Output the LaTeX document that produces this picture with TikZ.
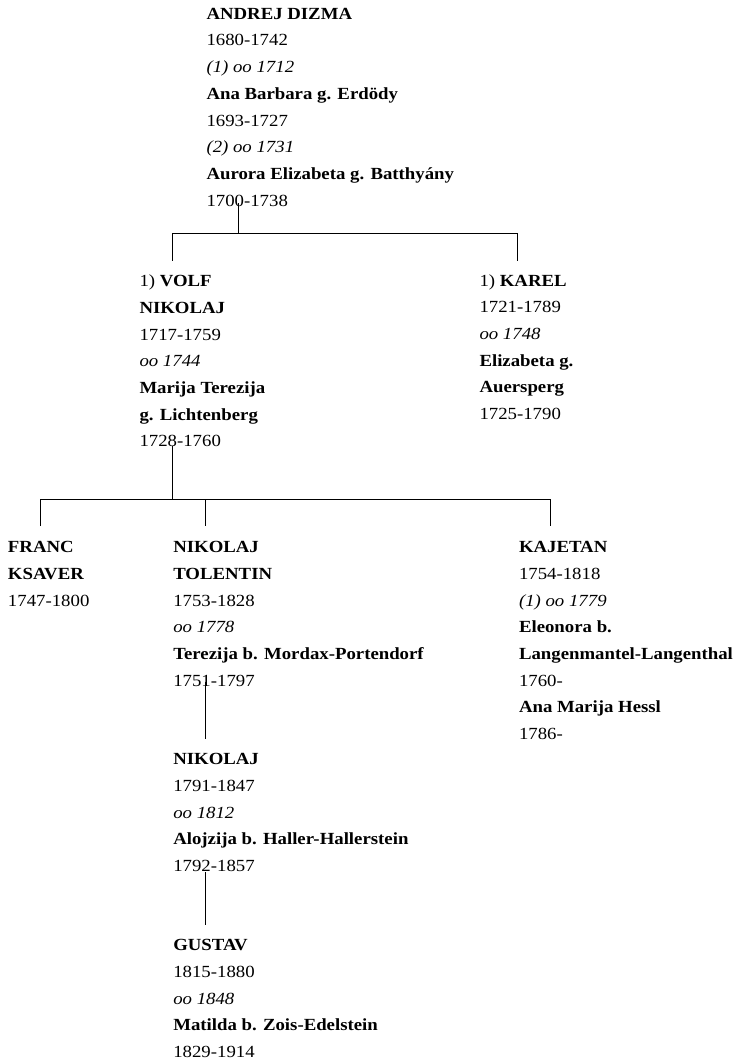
\documentclass[tikz,border=0pt]{standalone}
\usepackage{fontspec}
\setmainfont{Liberation Serif}[FakeStretch=1.105]
\begin{document}
\begin{tikzpicture}[x=1pt,y=-1pt,
  person/.style={anchor=base west,inner sep=0pt,outer sep=0pt,
    font=\fontsize{17}{26.7}\selectfont},
  link/.style={line width=0.9pt,draw=black}]
\useasboundingbox (0,0) rectangle (734,1060);
\def\arraystretch{1}
\newcommand{\pb}[1]{\begin{tabular}[t]{@{}l@{}}#1\end{tabular}}

\node[person] (andrej) at (206.5,19.3) {\pb{\textbf{ANDREJ DIZMA}\\1680-1742\\\textit{(1) oo 1712}\\\textbf{Ana Barbara g. Erdödy}\\1693-1727\\\textit{(2) oo 1731}\\\textbf{Aurora Elizabeta g. Batthyány}\\1700-1738}};

\node[person] (volf) at (139.5,286.7) {\pb{1) \textbf{VOLF}\\\textbf{NIKOLAJ}\\1717-1759\\\textit{oo 1744}\\\textbf{Marija Terezija}\\\textbf{g. Lichtenberg}\\1728-1760}};

\node[person] (karel) at (479.5,286.0) {\pb{1) \textbf{KAREL}\\1721-1789\\\textit{oo 1748}\\\textbf{Elizabeta g.}\\\textbf{Auersperg}\\1725-1790}};

\node[person] (franc) at (8,552.7) {\pb{\textbf{FRANC}\\\textbf{KSAVER}\\1747-1800}};

\node[person] (tolentin) at (173.3,552.7) {\pb{\textbf{NIKOLAJ}\\\textbf{TOLENTIN}\\1753-1828\\\textit{oo 1778}\\\textbf{Terezija b. Mordax-Portendorf}\\1751-1797}};

\node[person] (kajetan) at (519,552.7) {\pb{\textbf{KAJETAN}\\1754-1818\\\textit{(1) oo 1779}\\\textbf{Eleonora b.}\\\textbf{Langenmantel-Langenthal}\\1760-\\\textbf{Ana Marija Hessl}\\1786-}};

\node[person] (nikolaj) at (173.3,764.8) {\pb{\textbf{NIKOLAJ}\\1791-1847\\\textit{oo 1812}\\\textbf{Alojzija b. Haller-Hallerstein}\\1792-1857}};

\node[person] (gustav) at (173.3,950.6) {\pb{\textbf{GUSTAV}\\1815-1880\\\textit{oo 1848}\\\textbf{Matilda b. Zois-Edelstein}\\1829-1914}};

% junction coordinates
\coordinate (a0) at (238.3,203);
\coordinate (a1) at (238.3,233.5);
\coordinate (aL) at (172.3,233.5);
\coordinate (aR) at (517.3,233.5);
\coordinate (volfIn) at (172.3,260.5);
\coordinate (karelIn) at (517.3,260.5);

\coordinate (b0) at (172.3,446);
\coordinate (b1) at (172.3,499.5);
\coordinate (bL) at (40,499.5);
\coordinate (bM) at (205.7,499.5);
\coordinate (bR) at (550,499.5);
\coordinate (francIn) at (40,526);
\coordinate (tolIn) at (205.7,526);
\coordinate (kajIn) at (550,526);

\coordinate (c0) at (205,681.5);
\coordinate (nikIn) at (205,739.3);
\coordinate (d0) at (205,872);
\coordinate (gusIn) at (205,925);

\draw[link] (a0) -- (a1);
\draw[link] (volfIn) -- (aL) -- (aR) -- (karelIn);
\draw[link] (b0) -- (b1);
\draw[link] (francIn) -- (bL) -- (bR) -- (kajIn);
\draw[link] (bM) -- (tolIn);
\draw[link] (c0) -- (nikIn);
\draw[link] (d0) -- (gusIn);
\end{tikzpicture}
\end{document}
